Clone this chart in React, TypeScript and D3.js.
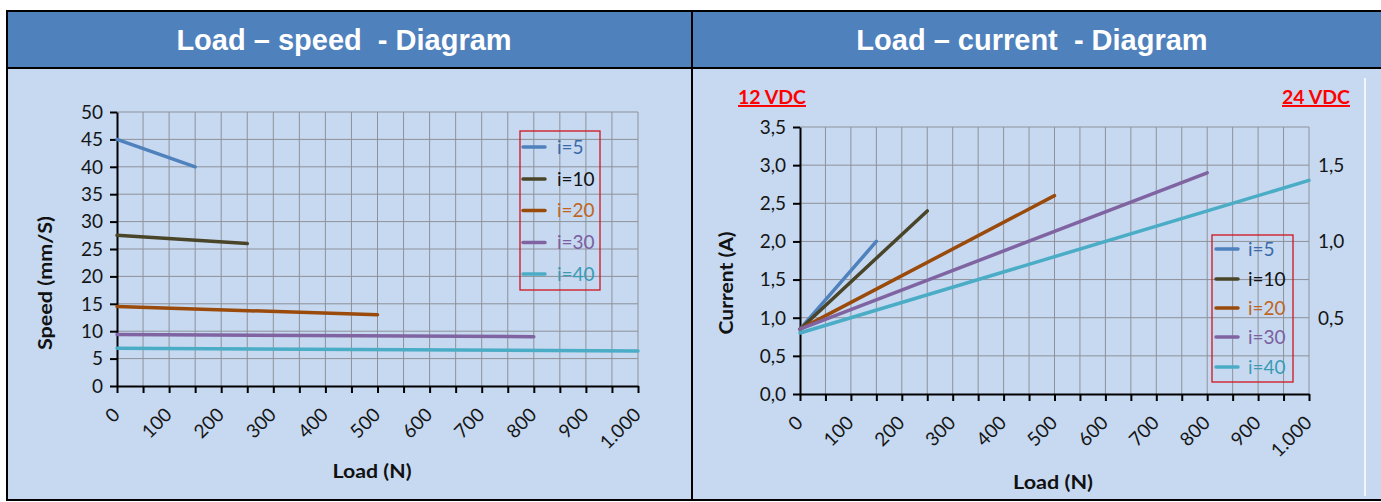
import { useEffect, useRef } from "react";
import * as d3 from "d3";

// series names and colours (legend order)
const seriesNames = ["i=5", "i=10", "i=20", "i=30", "i=40"];
const lineColors = ["#4F81BD", "#4A4529", "#9A4A0B", "#8064A2", "#4BACC6"];
const legendTextColors = ["#3B6AA8", "#111111", "#C0651C", "#7B60A0", "#3B9BB4"];

// load values (N) where each series starts / ends
const seriesLoads = [
  [0, 150],
  [0, 250],
  [0, 500],
  [0, 800],
  [0, 1000],
];

// speed (mm/s) for each series at those loads
const speedValues = [
  [45, 40],
  [27.5, 26],
  [14.5, 13],
  [9.4, 9],
  [6.9, 6.4],
];

// current (A) at 12 VDC for each series at those loads
const currentValues = [
  [0.85, 2.0],
  [0.85, 2.4],
  [0.85, 2.6],
  [0.85, 2.9],
  [0.8, 2.8],
];

const loadTicks = [0, 100, 200, 300, 400, 500, 600, 700, 800, 900, 1000];
const loadMinorTicks = [0, 50, 100, 150, 200, 250, 300, 350, 400, 450, 500, 550, 600, 650, 700, 750, 800, 850, 900, 950, 1000];
const speedTicks = [0, 5, 10, 15, 20, 25, 30, 35, 40, 45, 50];
const currentTicks = [0, 0.5, 1.0, 1.5, 2.0, 2.5, 3.0, 3.5];
const current24Ticks = [0.5, 1.0, 1.5];

const locale = d3.formatLocale({ decimal: ",", thousands: ".", grouping: [3], currency: ["", "€"] });
const fmtLoad = locale.format(",.0f");
const fmtOne = locale.format(".1f");

const FONT = "Lato, 'Open Sans', sans-serif";
const TICK_SIZE = 19;

type Panel = {
  x0: number;
  x1: number;
  yTop: number;
  yBottom: number;
  yMax: number;
  yTicks: number[];
  yFmt: (v: number) => string;
  values: number[][];
};

const App: React.FC = () => {
  const ref = useRef<SVGSVGElement>(null);

  useEffect(() => {
    const svg = d3.select(ref.current);
    svg.selectAll("*").remove();

    // table background
    svg.append("rect").attr("x", 0).attr("y", 0).attr("width", 1381).attr("height", 502).attr("fill", "#ffffff");
    svg.append("rect").attr("x", 6).attr("y", 10).attr("width", 1380).attr("height", 490).attr("fill", "#C6D9F1");
    svg.append("rect").attr("x", 6).attr("y", 10).attr("width", 1380).attr("height", 58).attr("fill", "#4F81BD");

    const border = svg.append("g").attr("stroke", "#000").attr("stroke-width", 2);
    border.append("line").attr("x1", 6).attr("x2", 1381).attr("y1", 11).attr("y2", 11);
    border.append("line").attr("x1", 6).attr("x2", 1381).attr("y1", 68).attr("y2", 68);
    border.append("line").attr("x1", 6).attr("x2", 1381).attr("y1", 500).attr("y2", 500);
    border.append("line").attr("x1", 7).attr("x2", 7).attr("y1", 10).attr("y2", 501);
    border.append("line").attr("x1", 692).attr("x2", 692).attr("y1", 10).attr("y2", 501);

    // chart area edge on the right panel
    svg.append("line").attr("x1", 1365).attr("x2", 1365).attr("y1", 78).attr("y2", 496)
      .attr("stroke", "#ffffff").attr("stroke-width", 1.5);

    const titles = [
      { text: "Load \u2013 speed  - Diagram", x: 344 },
      { text: "Load \u2013 current  - Diagram", x: 1032 },
    ];
    svg.selectAll(".title").data(titles).enter().append("text")
      .attr("x", (d) => d.x).attr("y", 50)
      .attr("text-anchor", "middle")
      .style("white-space", "pre")
      .attr("font-family", "'Liberation Sans', Arial, sans-serif")
      .attr("font-weight", "bold").attr("font-size", 29).attr("fill", "#fff")
      .text((d) => d.text);

    const drawPanel = (p: Panel) => {
      const x = d3.scaleLinear().domain([0, 1000]).range([p.x0, p.x1]);
      const y = d3.scaleLinear().domain([0, p.yMax]).range([p.yBottom, p.yTop]);
      const g = svg.append("g");

      // grid
      g.selectAll(".vgrid").data(loadMinorTicks.slice(1)).enter().append("line")
        .attr("x1", (d) => x(d)).attr("x2", (d) => x(d))
        .attr("y1", p.yTop).attr("y2", p.yBottom)
        .attr("stroke", "#8E9199").attr("stroke-width", 1);
      g.selectAll(".hgrid").data(p.yTicks.slice(1)).enter().append("line")
        .attr("x1", p.x0).attr("x2", p.x1)
        .attr("y1", (d) => y(d)).attr("y2", (d) => y(d))
        .attr("stroke", "#8E9199").attr("stroke-width", 1);

      // axes
      g.append("g").attr("transform", `translate(0,${p.yBottom})`)
        .call(d3.axisBottom(x).tickValues(loadMinorTicks).tickSize(7).tickSizeOuter(0).tickFormat(() => ""))
        .call((a) => a.selectAll("line,path").attr("stroke", "#000").attr("stroke-width", 2));
      g.append("g").attr("transform", `translate(${p.x0},0)`)
        .call(d3.axisLeft(y).tickValues(p.yTicks).tickSize(7).tickSizeOuter(0).tickFormat(() => ""))
        .call((a) => a.selectAll("line,path").attr("stroke", "#000").attr("stroke-width", 2));

      // y labels
      g.selectAll(".ylab").data(p.yTicks).enter().append("text")
        .attr("x", p.x0 - 14).attr("y", (d) => y(d))
        .attr("dy", "0.36em").attr("text-anchor", "end")
        .attr("font-family", FONT).attr("font-size", TICK_SIZE).attr("fill", "#151515")
        .text((d) => p.yFmt(d));

      // rotated x labels
      g.selectAll(".xlab").data(loadTicks).enter().append("text")
        .attr("transform", (d) => `translate(${x(d) + 4},${p.yBottom + 30}) rotate(-45)`)
        .attr("text-anchor", "end")
        .attr("font-family", FONT).attr("font-size", TICK_SIZE).attr("fill", "#151515")
        .text((d) => fmtLoad(d));

      // series
      const line = d3.line<[number, number]>().x((d) => x(d[0])).y((d) => y(d[1]));
      seriesNames.forEach((_, i) => {
        const pts = seriesLoads[i].map((l, k) => [l, p.values[i][k]] as [number, number]);
        g.append("path").attr("d", line(pts))
          .attr("fill", "none").attr("stroke", lineColors[i])
          .attr("stroke-width", 3.5).attr("stroke-linecap", "round");
      });
      return { x, y };
    };

    drawPanel({ x0: 117, x1: 638, yTop: 112, yBottom: 386, yMax: 50, yTicks: speedTicks, yFmt: (v) => String(v), values: speedValues });
    const right = drawPanel({ x0: 800, x1: 1309, yTop: 127, yBottom: 394, yMax: 3.5, yTicks: currentTicks, yFmt: fmtOne, values: currentValues });

    // secondary (24 VDC) labels: half the 12 VDC current
    svg.selectAll(".y2lab").data(current24Ticks).enter().append("text")
      .attr("x", 1318).attr("y", (d) => right.y(d * 2))
      .attr("dy", "0.36em")
      .attr("font-family", FONT).attr("font-size", TICK_SIZE).attr("fill", "#151515")
      .text((d) => fmtOne(d));

    // axis titles
    const axisTitle = (t: string, len: number) =>
      svg.append("text").attr("text-anchor", "middle")
        .attr("font-family", FONT).attr("font-weight", "bold").attr("font-size", 18.5).attr("fill", "#111")
        .attr("textLength", len).attr("lengthAdjust", "spacingAndGlyphs").text(t);
    axisTitle("Speed (mm/S)", 134).attr("transform", "translate(52,283) rotate(-90)");
    axisTitle("Current (A)", 103).attr("transform", "translate(733,283) rotate(-90)");
    axisTitle("Load (N)", 79).attr("x", 372).attr("y", 478);
    axisTitle("Load (N)", 80).attr("x", 1053).attr("y", 489);

    // voltage labels
    [{ t: "12 VDC", x: 738 }, { t: "24 VDC", x: 1282 }].forEach((v) => {
      svg.append("text").attr("x", v.x).attr("y", 104)
        .attr("font-family", FONT).attr("font-weight", "bold").attr("font-size", 19.5)
        .attr("fill", "#FF0000").style("text-decoration", "underline")
        .attr("textLength", 68).attr("lengthAdjust", "spacingAndGlyphs")
        .text(v.t);
    });

    // legends
    const legends = [
      { bx: 520, by: 131, bw: 80, bh: 159, lx: 523, tx: 557, ys: [147, 179, 210.5, 242.5, 274] },
      { bx: 1212, by: 235, bw: 81, bh: 147, lx: 1216, tx: 1248, ys: [249, 279, 308, 337, 367] },
    ];
    legends.forEach((L) => {
      const lg = svg.append("g");
      lg.append("rect").attr("x", L.bx).attr("y", L.by).attr("width", L.bw).attr("height", L.bh)
        .attr("fill", "none").attr("stroke", "#D2151C").attr("stroke-width", 1.3);
      seriesNames.forEach((name, i) => {
        lg.append("line").attr("x1", L.lx).attr("x2", L.lx + 22)
          .attr("y1", L.ys[i]).attr("y2", L.ys[i])
          .attr("stroke", lineColors[i]).attr("stroke-width", 3.5).attr("stroke-linecap", "round");
        lg.append("text").attr("x", L.tx).attr("y", L.ys[i]).attr("dy", "0.36em")
          .attr("font-family", FONT).attr("font-size", 19).attr("fill", legendTextColors[i])
          .text(name);
      });
    });
  }, []);

  return (
    <svg
      ref={ref}
      width={1381}
      height={502}
      style={{ position: "absolute", left: 0, top: 0, display: "block" }}
    />
  );
};

export default App;
